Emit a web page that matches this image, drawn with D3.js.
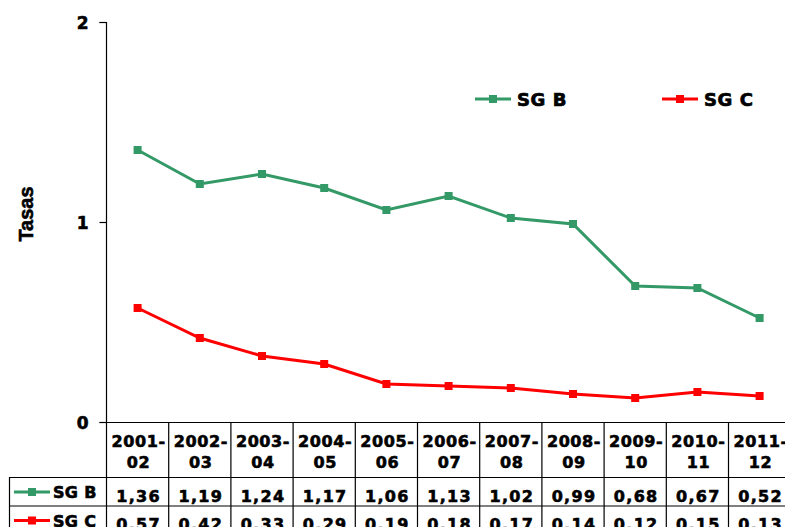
<!DOCTYPE html>
<html><head><meta charset="utf-8">
<script src="https://cdn.jsdelivr.net/npm/d3@7"></script>
<style>body{margin:0;background:#fff;overflow:hidden}svg{display:block}</style>
</head><body>
<script>
const categories = ["2001-02","2002-03","2003-04","2004-05","2005-06","2006-07","2007-08","2008-09","2009-10","2010-11","2011-12"];
const sgB = [1.36,1.19,1.24,1.17,1.06,1.13,1.02,0.99,0.68,0.67,0.52];
const sgC = [0.57,0.42,0.33,0.29,0.19,0.18,0.17,0.14,0.12,0.15,0.13];
const sgBLabels = ["1,36","1,19","1,24","1,17","1,06","1,13","1,02","0,99","0,68","0,67","0,52"];
const sgCLabels = ["0.57","0.42","0.33","0.29","0.19","0.18","0.17","0.14","0.12","0.15","0.13"];
const yTicks = [0,1,2];
const series = [
  {name:"SG B", values:sgB, labels:sgBLabels, color:"#339966"},
  {name:"SG C", values:sgC, labels:sgCLabels, color:"#ff0000"}
];

const W=785,H=527;
const svg=d3.select("body").append("svg").attr("width",W).attr("height",H);
const x0=106.5, colW=62.2;
const x=d3.scaleBand().domain(categories).range([x0,x0+colW*categories.length]).padding(0);
const y=d3.scaleLinear().domain([0,2]).range([422,22]);
const font="'DejaVu Sans', Verdana, sans-serif";
const heavy=(sel,w)=>sel.attr("stroke","#000").attr("stroke-width",w).attr("paint-order","stroke");

// y axis
const yAxis=d3.axisLeft(y).tickValues(yTicks).tickSize(7).tickFormat(d3.format("d"));
const gy=svg.append("g").attr("transform",`translate(${x0},0)`).call(yAxis);
gy.select(".domain").attr("stroke","#000").attr("stroke-width",1.2).attr("d",`M-7,22.5H0V422`);
gy.selectAll(".tick line").attr("stroke","#000").attr("stroke-width",1.2);
gy.selectAll(".tick text").attr("x",-18).attr("dy","0.36em").attr("font-family",font).attr("font-weight","bold").attr("font-size",17).attr("fill","#000").call(heavy,0.6);

// x axis line
svg.append("line").attr("x1",x0-7).attr("x2",W).attr("y1",422.5).attr("y2",422.5).attr("stroke","#000").attr("stroke-width",1.2);

// y title
svg.append("text").attr("transform","translate(33,214) rotate(-90)").attr("text-anchor","middle")
  .attr("font-family","'Liberation Sans', Arial, sans-serif").attr("font-weight","bold").attr("font-size",20).attr("fill","#000").call(heavy,0.6).text("Tasas");

// lines
const line=d3.line().x((d,i)=>x(categories[i])+x.bandwidth()/2).y(d=>y(d));
series.forEach(s=>{
  svg.append("path").datum(s.values).attr("d",line).attr("fill","none").attr("stroke",s.color).attr("stroke-width",3);
  svg.selectAll(null).data(s.values).enter().append("rect")
    .attr("x",(d,i)=>x(categories[i])+x.bandwidth()/2-4).attr("y",d=>y(d)-4)
    .attr("width",8).attr("height",8).attr("fill",s.color);
});

// legend
const legX=[475,662];
series.forEach((s,i)=>{
  const g=svg.append("g").attr("transform",`translate(${legX[i]},99)`);
  g.append("line").attr("x1",0).attr("x2",36).attr("stroke",s.color).attr("stroke-width",3);
  g.append("rect").attr("x",14).attr("y",-4).attr("width",8).attr("height",8).attr("fill",s.color);
  g.append("text").attr("x",42).attr("y",6.5).attr("font-family",font).attr("font-weight","bold").attr("font-size",18).attr("letter-spacing",0.6).attr("fill","#000").call(heavy,0.7).text(s.name);
});

// data table
const t=svg.append("g");
const rowTop=[477.5,506,534.5];
const xEnd=x0+colW*categories.length;
const txt=(sel)=>sel.attr("font-family",font).attr("font-weight","bold").attr("font-size",16).attr("letter-spacing",0.6).attr("fill","#000").call(heavy,0.6);
categories.forEach((c,i)=>{
  t.append("line").attr("x1",x(c)).attr("x2",x(c)).attr("y1",422).attr("y2",H).attr("stroke","#000").attr("stroke-width",1.2);
  const parts=c.split("-");
  const cx=x(c)+x.bandwidth()/2;
  t.append("text").attr("x",cx+1).attr("y",447).attr("text-anchor","middle").call(txt).text(parts[0]+"-");
  t.append("text").attr("x",cx+1).attr("y",468.3).attr("text-anchor","middle").call(txt).text(parts[1]);
});
t.append("line").attr("x1",xEnd).attr("x2",xEnd).attr("y1",422).attr("y2",H).attr("stroke","#000").attr("stroke-width",1.2);
t.append("line").attr("x1",9.5).attr("x2",9.5).attr("y1",477).attr("y2",H).attr("stroke","#000").attr("stroke-width",1.2);
rowTop.forEach(r=>t.append("line").attr("x1",9).attr("x2",W).attr("y1",r).attr("y2",r).attr("stroke","#000").attr("stroke-width",1.2));
series.forEach((s,ri)=>{
  const yy=rowTop[ri]+24;
  const g=t.append("g").attr("transform",`translate(14,${rowTop[ri]+14.5})`);
  g.append("line").attr("x1",0).attr("x2",36).attr("stroke",s.color).attr("stroke-width",3);
  g.append("rect").attr("x",14).attr("y",-4).attr("width",8).attr("height",8).attr("fill",s.color);
  g.append("text").attr("x",39).attr("y",6).call(txt).attr("letter-spacing",0.3).text(s.name);
  s.labels.forEach((l,i)=>{
    t.append("text").attr("x",x(categories[i])+x.bandwidth()/2+1).attr("y",yy).attr("text-anchor","middle")
      .call(txt).attr("letter-spacing",1.3).text(l);
  });
});
</script>
</body></html>
